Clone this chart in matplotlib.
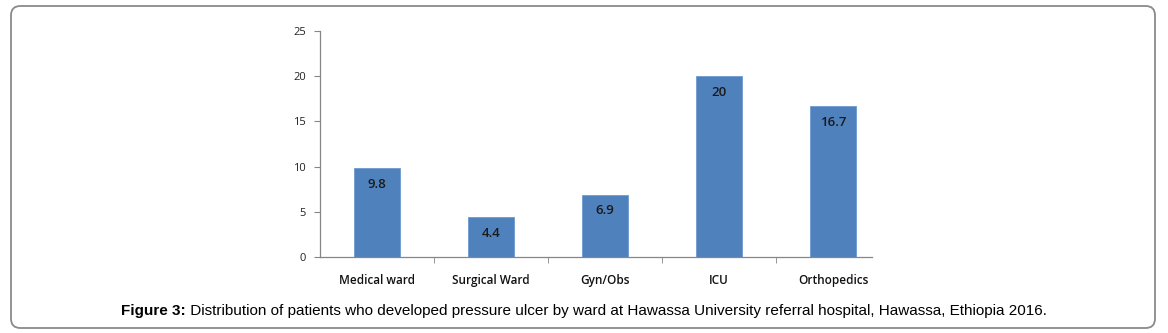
import matplotlib
matplotlib.use("Agg")
import matplotlib.pyplot as plt
from matplotlib.patches import FancyBboxPatch
from matplotlib import font_manager

categories = ["Medical ward", "Surgical Ward", "Gyn/Obs", "ICU", "Orthopedics"]
values = [9.8, 4.4, 6.9, 20, 16.7]
value_labels = ["9.8", "4.4", "6.9", "20", "16.7"]
yticks = [0, 5, 10, 15, 20, 25]

names = {f.name for f in font_manager.fontManager.ttflist}
chart_font = "Open Sans" if "Open Sans" in names else "DejaVu Sans"
cap_font = "Liberation Sans Narrow" if "Liberation Sans Narrow" in names else "Liberation Sans"

W, H = 1168, 333
fig = plt.figure(figsize=(W / 100, H / 100), dpi=100)

# outer rounded border
border = FancyBboxPatch((11 / W, 5 / H), (1155 - 11) / W, (327 - 5) / H,
                        boxstyle="round,pad=0,rounding_size=0.008",
                        transform=fig.transFigure, fill=False,
                        edgecolor="#8a8a8a", linewidth=1.3, mutation_aspect=W / H)
fig.patches.append(border)

ax = fig.add_axes([320 / W, 76 / H, (872 - 320) / W, (302 - 76) / H])
x = list(range(len(categories)))
ax.bar(x, values, width=0.4, color="#4F81BD", edgecolor="#6f9bd0", linewidth=0.6)
ax.set_xlim(-0.5, -0.5 + (872 - 320) / 114)
ax.set_ylim(0, 25)
ax.set_yticks(yticks)
ax.set_yticklabels([str(t) for t in yticks], fontsize=8, family=chart_font, color="#222222")
ax.set_xticks(x)
ax.set_xticklabels(categories, fontsize=8.5, family=chart_font, fontweight="semibold", color="#111111")
ax.tick_params(axis="x", length=0, pad=12)
ax.set_xticks([i + 0.5 for i in range(len(categories) - 1)], minor=True)
ax.tick_params(axis="x", which="minor", length=4, color="#868686", direction="out")
ax.tick_params(axis="y", length=4, color="#868686", direction="out", pad=6)
for s in ["top", "right"]:
    ax.spines[s].set_visible(False)
for s in ["left", "bottom"]:
    ax.spines[s].set_color("#868686")
    ax.spines[s].set_linewidth(0.9)

for xi, v, lab in zip(x, values, value_labels):
    ax.annotate(lab, (xi, v), xytext=(0, -16), textcoords="offset pixels",
                ha="center", va="center", fontsize=9.5, family=chart_font,
                fontweight="semibold", color="#1a1a1a")

# caption
fig.canvas.draw()
r = fig.canvas.get_renderer()
t1 = fig.text(0, 0, "Figure 3:", fontsize=11, family=cap_font, fontweight="bold")
t2 = fig.text(0, 0, " Distribution of patients who developed pressure ulcer by ward at Hawassa University referral hospital, Hawassa, Ethiopia 2016.",
              fontsize=11, family=cap_font)
w1 = t1.get_window_extent(r).width
w2 = t2.get_window_extent(r).width
start = (584 - (w1 + w2) / 2)
yc = (H - 311) / H
t1.set_position((start / W, yc)); t1.set_va("center")
t2.set_position(((start + w1) / W, yc)); t2.set_va("center")

fig.savefig("out.png", dpi=100)
